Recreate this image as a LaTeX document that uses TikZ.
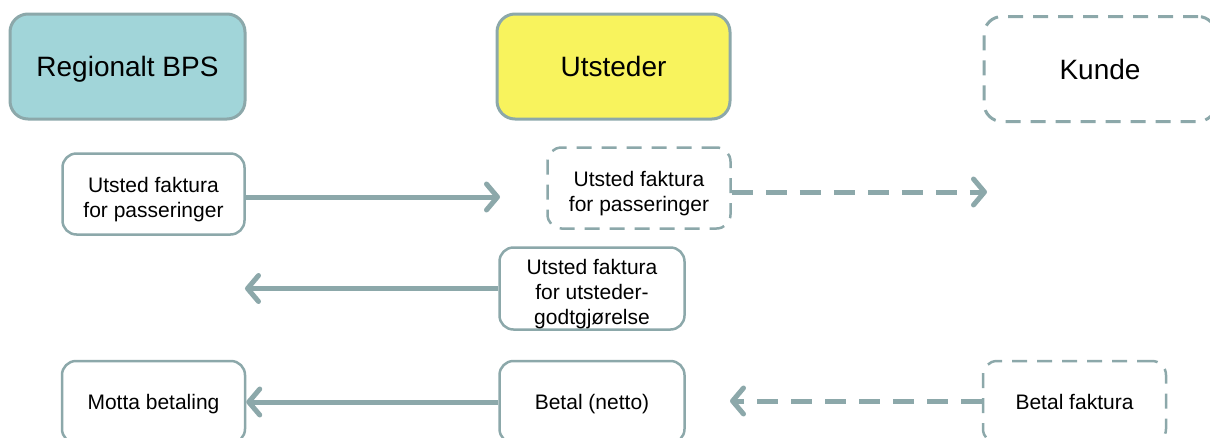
\documentclass[tikz,border=0pt]{standalone}
\usepackage{fontspec}
\setmainfont{Liberation Sans}
\usetikzlibrary{arrows.meta}
\definecolor{edge}{HTML}{8CA8AA}
\definecolor{tealfill}{HTML}{A1D5D9}
\definecolor{yellowfill}{HTML}{F8F35D}
\begin{document}
\begin{tikzpicture}[x=1pt,y=-1pt,
  role/.style={draw=edge, line width=3pt, rounded corners=18pt,
    font=\fontsize{28}{33}\selectfont, inner sep=0pt,
    text height=20pt, text depth=0pt},
  task/.style={draw=edge, line width=2.5pt, rounded corners=14pt,
    font=\fontsize{21}{25}\selectfont, align=center, inner sep=0pt},
  oneline/.style={text height=15pt, text depth=0pt},
  twolines/.style={text height=52pt, text depth=4.5pt},
  threelines/.style={text height=76pt, text depth=5pt},
  optional/.style={dash pattern=on 15pt off 10pt},
  flow/.style={draw=edge, line width=5pt,
    -{Straight Barb[length=11pt,width=26pt,round]}},
  flowdash/.style={flow, dash pattern=on 21pt off 13pt}]
\useasboundingbox (0,0) rectangle (1210,437);

% actors
\node[role, fill=tealfill, minimum width=235pt, minimum height=105pt] (bps) at (127.5,66.5) {Regionalt BPS};
\node[role, fill=yellowfill, minimum width=233pt, minimum height=105pt] (uts) at (613.5,66.5) {Utsteder};
\node[role, optional, minimum width=232pt, minimum height=105pt] (kunde) at (1100,69) {Kunde};

% tasks
\node[task, twolines, minimum width=182pt, minimum height=81pt] (pa) at (153.5,194) {Utsted faktura\\for passeringer};
\node[task, twolines, optional, minimum width=183pt, minimum height=81pt] (pb) at (639,188) {Utsted faktura\\for passeringer};
\node[task, threelines, minimum width=185pt, minimum height=82pt] (ug) at (592,288.5) {Utsted faktura\\for utsteder-\\godtgjørelse};
\node[task, oneline, minimum width=183pt, minimum height=82pt] (mb) at (153.5,402) {Motta betaling};
\node[task, oneline, minimum width=185pt, minimum height=82pt] (bn) at (592,402) {Betal (netto)};
\node[task, oneline, optional, minimum width=183pt, minimum height=82pt] (bf) at (1074.5,402) {Betal faktura};

% free arrow ends
\coordinate (t1) at (500,197);
\coordinate (t2) at (987,192);
\coordinate (t3) at (245,288.5);
\coordinate (t5) at (730,401);

% flows
\draw[flow] (pa.east |- t1) -- (t1);
\draw[flowdash] (pb.east |- t2) -- (t2);
\draw[flow] (ug.west) -- (t3);
\draw[flow] (bn.west) -- (mb.east);
\draw[flowdash] (bf.west |- t5) -- (t5);
\end{tikzpicture}
\end{document}
